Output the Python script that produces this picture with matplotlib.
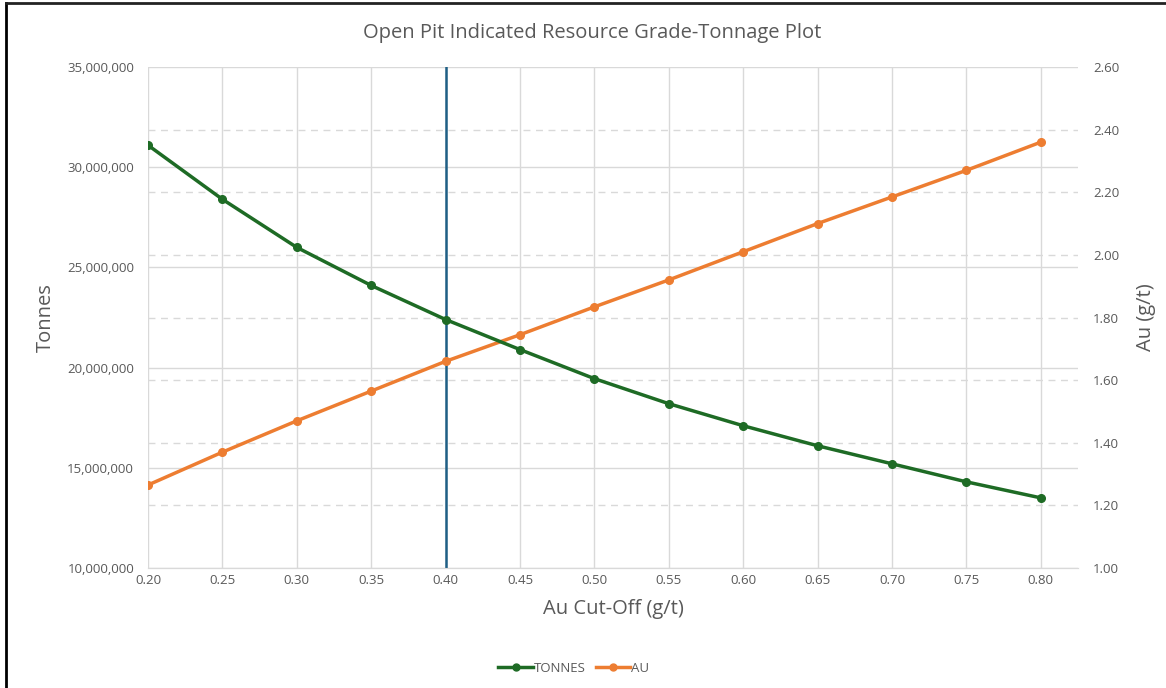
import numpy as np
import matplotlib.pyplot as plt
from matplotlib.ticker import FuncFormatter, MultipleLocator
from matplotlib.lines import Line2D

# Grade-tonnage data
cutoff = [0.20, 0.25, 0.30, 0.35, 0.40, 0.45, 0.50, 0.55, 0.60, 0.65, 0.70, 0.75, 0.80]
tonnes = [31.1e6, 28.4e6, 26.0e6, 24.1e6, 22.4e6, 20.9e6, 19.45e6, 18.2e6,
          17.1e6, 16.1e6, 15.2e6, 14.3e6, 13.5e6]
au = [1.265, 1.37, 1.47, 1.565, 1.66, 1.745, 1.834, 1.92, 2.01, 2.10, 2.185, 2.27, 2.36]
chosen_cutoff = 0.40

green = '#1e6b25'
orange = '#ed7d31'
txt = '#595959'
grid_c = '#d9d9d9'

plt.rcParams['font.family'] = ['Open Sans', 'DejaVu Sans']

fig = plt.figure(figsize=(11.66, 6.88), dpi=100)
ax = fig.add_axes([0.1269, 0.1744, 0.7976, 0.7282])
ax2 = ax.twinx()

t_lo, t_hi = 10e6, 35e6
g_lo, g_hi = 1.0, 2.6

ax.set_ylim(t_lo, t_hi)
ax.yaxis.set_major_locator(MultipleLocator(5e6))
ax.yaxis.set_major_formatter(FuncFormatter(lambda v, p: f'{v:,.0f}'))
ax.set_xlim(0.20, 0.825)
ax.set_xticks(cutoff)
ax.set_xticklabels([f'{c:.2f}' for c in cutoff])
ax.grid(True, color=grid_c, lw=1, ls='-')
ax.set_axisbelow(True)

ax2.set_ylim(g_lo, g_hi)
ax2.yaxis.set_major_locator(MultipleLocator(0.2))
ax2.yaxis.set_major_formatter(FuncFormatter(lambda v, p: f'{v:.2f}'))

# right-axis gridlines drawn on the lower axes so the lines stay on top
for g in np.arange(1.2, 2.5, 0.2):
    ax.axhline(t_lo + (g - g_lo) / (g_hi - g_lo) * (t_hi - t_lo),
               color=grid_c, lw=1, ls=(0, (5, 4)), zorder=0.5)

for a in (ax, ax2):
    for s in ('top', 'right', 'left'):
        a.spines[s].set_visible(False)
    a.spines['bottom'].set_color(grid_c)
    a.tick_params(length=0, labelsize=9.5, colors=txt)
ax.tick_params(axis='y', pad=10)
ax.tick_params(axis='x', pad=4)
ax2.tick_params(axis='y', pad=11)

ax2.axvline(chosen_cutoff, color='#1f5f85', lw=1.8, zorder=2)
ax2.plot(cutoff, au, color=orange, lw=2.5, marker='o', ms=5.5, zorder=3)
# tonnes plotted on top axes using its own scale via transform
ax2.plot(cutoff, tonnes, color=green, lw=2.5, marker='o', ms=5.5, zorder=3,
         transform=ax.transData)

fig.text(0.508, 0.952, 'Open Pit Indicated Resource Grade-Tonnage Plot', color=txt,
         fontsize=14.5, ha='center', va='center')
ax.set_xlabel('Au Cut-Off (g/t)', color=txt, fontsize=14.5, labelpad=9)
ax.set_ylabel('Tonnes', color=txt, fontsize=14.5, labelpad=8)
ax2.set_ylabel('Au (g/t)', color=txt, fontsize=14.5, labelpad=12)

handles = [Line2D([], [], color=green, lw=2.5, marker='o', ms=5),
           Line2D([], [], color=orange, lw=2.5, marker='o', ms=5)]
fig.legend(handles, ['TONNES', 'AU'], loc='center', bbox_to_anchor=(0.492, 0.029),
           ncol=2, frameon=False, fontsize=9.5, labelcolor=txt,
           handlelength=2.6, handletextpad=0.05, columnspacing=0.8)

# screenshot frame on left and top
fig.add_artist(Line2D([0.0055, 0.0055], [0, 0.995], transform=fig.transFigure, color='black', lw=2))
fig.add_artist(Line2D([0.0055, 1], [0.995, 0.995], transform=fig.transFigure, color='#222222', lw=2))

fig.savefig('out.png', dpi=100)
